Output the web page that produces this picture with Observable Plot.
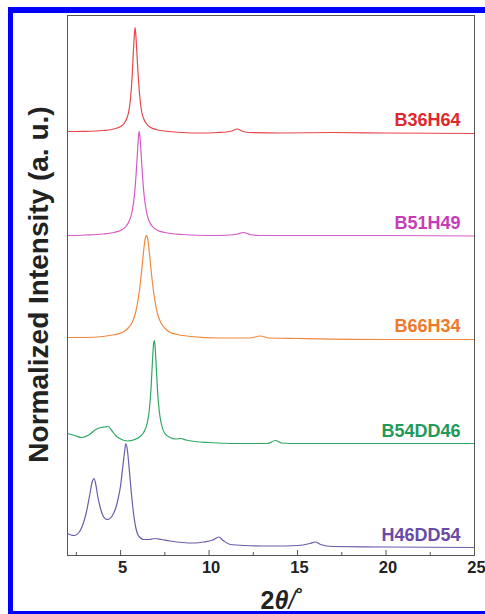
<!DOCTYPE html>
<html><head><meta charset="utf-8">
<script src="https://cdn.jsdelivr.net/npm/d3@7"></script>
<script src="https://cdn.jsdelivr.net/npm/@observablehq/plot@0.6"></script>
<style>
html,body{margin:0;padding:0;background:#fff;width:485px;height:614px;overflow:hidden;}
#wrap{position:absolute;left:0;top:0;width:485px;height:614px;overflow:hidden;}
#border{position:absolute;left:8px;top:7px;width:700px;height:598px;border-top:6px solid #0000ff;border-left:5px solid #0000ff;border-bottom:6px solid #0000ff;}
#chart{position:absolute;left:0;top:0;}
</style></head><body>
<div id="wrap"><div id="border"></div><div id="chart"></div></div>
<script>
// Sample names, vertical offsets (stacking), colours
const samples = ["B36H64", "B51H49", "B66H34", "B54DD46", "H46DD54"];
const offsets = [4.23, 3.20, 2.17, 1.12, 0.08];
const lineColors = ["#e8464a", "#d45ac4", "#f08840", "#2fa864", "#6f5aaa"];
const labelColors = ["#e0282d", "#c83cb8", "#ee7a2c", "#1f9a58", "#6a4aa6"];

// x axis ticks
const majorTicks = [5, 10, 15, 20, 25];
const minorTicks = [2.5, 7.5, 12.5, 17.5, 22.5];

// B36H64
const tt_B36H64 = [2.0, 3.0, 4.0, 4.5, 4.8, 5.0, 5.2, 5.35, 5.45, 5.55, 5.65, 5.72, 5.78, 5.82, 5.86, 5.92, 6.0, 6.1, 6.2, 6.3, 6.45, 6.7, 7.0, 7.5, 8.5, 9.5, 10.5, 11.0, 11.3, 11.6, 11.85, 12.2, 14, 17, 20, 25];
const int_B36H64 = [0.01, 0.012, 0.02, 0.03, 0.045, 0.06, 0.09, 0.14, 0.2, 0.32, 0.55, 0.8, 0.98, 1.05, 0.98, 0.8, 0.55, 0.33, 0.2, 0.14, 0.09, 0.05, 0.03, 0.015, 0.0, -0.005, 0.0, 0.005, 0.015, 0.035, 0.015, 0.0, -0.005, 0.0, -0.005, -0.01];

// B51H49
const tt_B51H49 = [2.0, 3.0, 4.0, 4.6, 5.0, 5.3, 5.5, 5.65, 5.78, 5.88, 5.96, 6.01, 6.05, 6.09, 6.15, 6.23, 6.33, 6.46, 6.6, 6.8, 7.1, 7.5, 8.5, 10, 11.2, 11.6, 11.95, 12.3, 12.8, 16, 20, 25];
const int_B51H49 = [0.0, 0.005, 0.015, 0.03, 0.05, 0.09, 0.15, 0.24, 0.4, 0.62, 0.85, 0.99, 1.04, 0.99, 0.85, 0.62, 0.4, 0.24, 0.15, 0.09, 0.05, 0.03, 0.01, 0.0, 0.005, 0.015, 0.03, 0.01, 0.0, 0.0, 0.0, -0.005];

// B66H34
const tt_B66H34 = [2.0, 3.0, 4.0, 4.7, 5.1, 5.4, 5.65, 5.85, 6.0, 6.12, 6.25, 6.35, 6.42, 6.46, 6.5, 6.57, 6.67, 6.8, 6.92, 7.07, 7.27, 7.52, 7.8, 8.2, 9.0, 10.5, 12.3, 12.9, 13.4, 15, 20, 25];
const int_B66H34 = [0.01, 0.01, 0.02, 0.04, 0.06, 0.1, 0.16, 0.26, 0.4, 0.56, 0.78, 0.95, 1.02, 1.03, 1.02, 0.95, 0.78, 0.56, 0.4, 0.26, 0.16, 0.1, 0.06, 0.04, 0.02, 0.005, 0.005, 0.025, 0.005, 0.0, -0.01, -0.01];

// B54DD46
const tt_B54DD46 = [2.0, 2.4, 2.8, 3.2, 3.6, 3.9, 4.1, 4.3, 4.5, 4.75, 5.0, 5.4, 5.8, 6.1, 6.3, 6.5, 6.62, 6.72, 6.8, 6.86, 6.9, 6.94, 7.0, 7.08, 7.18, 7.3, 7.5, 7.8, 8.1, 8.4, 8.7, 9.2, 10, 11.5, 13.3, 13.75, 14.1, 15, 20, 25];
const int_B54DD46 = [0.10, 0.08, 0.06, 0.085, 0.14, 0.16, 0.165, 0.17, 0.13, 0.075, 0.045, 0.025, 0.04, 0.07, 0.11, 0.2, 0.33, 0.55, 0.82, 0.99, 1.03, 0.99, 0.82, 0.55, 0.33, 0.2, 0.1, 0.06, 0.045, 0.05, 0.035, 0.02, 0.01, 0.0, 0.0, 0.03, 0.005, 0.0, 0.0, 0.0];

// H46DD54
const tt_H46DD54 = [2.0, 2.2, 2.4, 2.65, 2.85, 3.05, 3.25, 3.4, 3.5, 3.6, 3.72, 3.85, 4.0, 4.15, 4.3, 4.5, 4.7, 4.85, 5.0, 5.12, 5.22, 5.3, 5.38, 5.48, 5.58, 5.68, 5.77, 5.87, 5.97, 6.1, 6.3, 6.6, 6.95, 7.3, 7.8, 8.5, 9.2, 9.7, 10.2, 10.55, 10.8, 11.2, 12, 13.5, 15, 15.7, 16.0, 16.3, 17, 20, 25];
const int_H46DD54 = [0.14, 0.125, 0.12, 0.15, 0.22, 0.34, 0.52, 0.66, 0.69, 0.63, 0.5, 0.4, 0.32, 0.285, 0.28, 0.31, 0.38, 0.48, 0.62, 0.8, 0.95, 1.04, 0.98, 0.8, 0.6, 0.42, 0.29, 0.19, 0.13, 0.1, 0.08, 0.08, 0.09, 0.08, 0.065, 0.05, 0.045, 0.055, 0.075, 0.105, 0.07, 0.03, 0.02, 0.015, 0.02, 0.04, 0.055, 0.03, 0.01, 0.005, 0.0];

const twoTheta = [tt_B36H64, tt_B51H49, tt_B66H34, tt_B54DD46, tt_H46DD54];
const intensity = [int_B36H64, int_B51H49, int_B66H34, int_B54DD46, int_H46DD54];

const lineMarks = samples.map((s, i) =>
  Plot.line(twoTheta[i].map((t, j) => ({t, v: intensity[i][j] + offsets[i]})), {
    x: "t", y: "v", stroke: lineColors[i], strokeWidth: 1.2, curve: "monotone-x"
  })
);

const plot = Plot.plot({
  width: 485,
  height: 614,
  marginLeft: 67,
  marginRight: 11,
  marginTop: 15,
  marginBottom: 59,
  style: {fontFamily: "'Liberation Sans', Arial, sans-serif", fontSize: "16px", fontWeight: "bold", background: "transparent", overflow: "visible"},
  x: {domain: [2, 25]},
  y: {domain: [0, 5.4], axis: null},
  color: {type: "identity"},
  marks: [
    ...lineMarks,
    Plot.ruleX(majorTicks, {x: d => d, y1: 0, y2: 0.05, stroke: "#555"}),
    Plot.ruleX(minorTicks, {x: d => d, y1: 0, y2: 0.03, stroke: "#555"}),
    Plot.frame({stroke: "#555"}),
    Plot.axisX(majorTicks, {tickSize: 0, tickPadding: 6, label: null, dx: 2, fontWeight: "bold", fontSize: 16.5, fill: "#222"}),
    Plot.text(samples, {x: 25, y: (d, i) => offsets[i] + 0.12, text: d => d, textAnchor: "end", dx: -14,
      fill: (d, i) => labelColors[i], fontWeight: "bold", fontSize: 18}),
    Plot.text(["Normalized Intensity (a. u.)"], {frameAnchor: "left", y: 2.71, rotate: -90, dx: -28,
      textAnchor: "middle", text: d => d, fontSize: 28, fontWeight: "bold", fill: "#222"}),
    Plot.text(["2θ/°"], {x: 14.1, frameAnchor: "bottom", dy: 45, text: d => d, lineAnchor: "middle",
      fontSize: 25, fontWeight: "bold", fill: "#222"})
  ]
});

d3.select(plot).selectAll("text").filter(function() { return this.textContent === "2θ/°"; }).each(function() {
  const el = d3.select(this);
  el.text(null);
  el.append("tspan").text("2");
  el.append("tspan").attr("font-style", "italic").text("θ");
  el.append("tspan").attr("font-style", "italic").attr("font-weight", "normal").text("/");
  el.append("tspan").attr("dy", "-9").attr("font-size", "18").text("°");
});

document.getElementById("chart").appendChild(plot);
</script></body></html>
